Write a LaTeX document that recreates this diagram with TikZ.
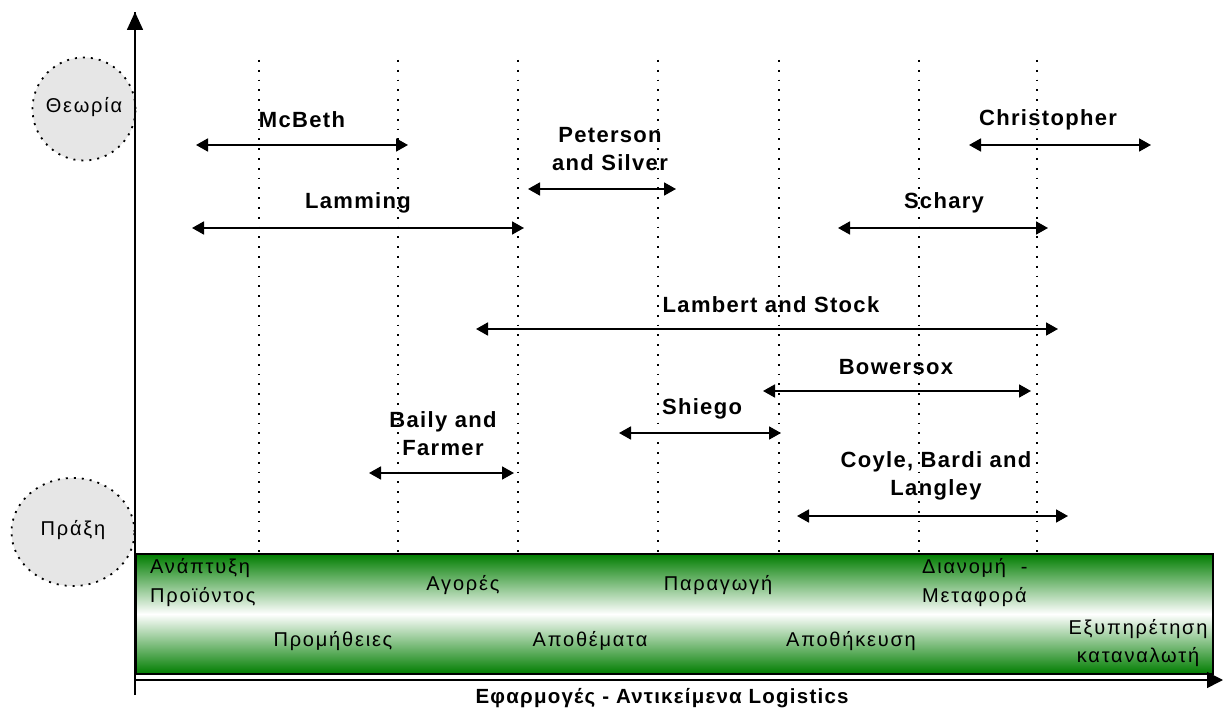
\documentclass[tikz,border=0pt]{standalone}
\usepackage{fontspec}
\setmainfont{Liberation Sans}
\usetikzlibrary{arrows.meta,shapes.geometric}
\begin{document}
\begin{tikzpicture}[x=1pt,y=-1pt,
  lbl/.style={font=\fontsize{22}{28}\selectfont\bfseries\addfontfeature{LetterSpace=6},align=center,inner sep=0pt},
  bartxt/.style={font=\fontsize{20}{29}\selectfont\addfontfeature{LetterSpace=9},inner sep=0pt},
  span/.style={{Triangle[length=12pt,width=13pt]}-{Triangle[length=12pt,width=13pt]},line width=1.8pt},
  grid/.style={line width=1.6pt,dash pattern=on 1.8pt off 8pt},
  bubble/.style={fill={rgb,255:red,230;green,230;blue,230},draw=black,line width=1.8pt,dash pattern=on 2pt off 6pt,inner sep=0pt},
  axis/.style={line width=1.6pt}
]
\useasboundingbox (0,0) rectangle (1224,714);
% bar
\node[draw=black,line width=2pt,minimum width=1077pt,minimum height=120pt,inner sep=0pt,anchor=north west,
  top color={rgb,255:red,0;green,125;blue,0},bottom color={rgb,255:red,0;green,125;blue,0},middle color=white] (bar) at (135,553) {};
% grid lines
\foreach \x [count=\i] in {259,398,518,658,779,919,1037}{
  \coordinate (gt\i) at (\x,60);
  \coordinate (gb\i) at (\x,553);
  \draw[grid] (gt\i) -- (gb\i);
}
% axes
\coordinate (o) at (135,695);
\coordinate (ytop) at (135,12);
\coordinate (xo) at (135,680);
\coordinate (xend) at (1223,680);
\draw[axis,-{Triangle[length=18pt,width=16pt]}] (o) -- (ytop);
\draw[axis,-{Triangle[length=16pt,width=16pt]}] (xo) -- (xend);
% bubbles
\node[bubble,circle,minimum size=103pt] (theory) at (84,109) {};
\node[bartxt] (theorylbl) at (84,107) {Θεωρία};
\node[bubble,ellipse,minimum width=123pt,minimum height=108pt] (practice) at (73,532) {};
\node[bartxt] (practicelbl) at (73,530) {Πράξη};
\draw[axis] (135,553) -- (135,12);
% spans
\foreach \n/\y/\a/\b in {mcbeth/145/196/408, peter/189/528/676, chris/145/969/1151, lamm/228/192/524, schary/228/838/1048, lambert/329/476/1058, bower/391/763/1031, shiego/433/619/781, baily/473/369/514, coyle/516/797/1068}{
  \coordinate (\n L) at (\a,\y);
  \coordinate (\n R) at (\b,\y);
  \draw[span] (\n L) -- (\n R);
}
\node[lbl] (t1) at (302,120) {McBeth};
\node[lbl] (t2) at (610,149) {Peterson\\and Silver};
\node[lbl] (t3) at (1048,120) {Christopher};
\node[lbl] (t4) at (358,203) {Lamming};
\node[lbl] (t5) at (944,203) {Schary};
\node[lbl] (t6) at (771,305) {Lambert and Stock};
\node[lbl] (t7) at (896,367) {Bowersox};
\node[lbl] (t8) at (702,409) {Shiego};
\node[lbl] (t9) at (443,434) {Baily and\\Farmer};
\node[lbl] (t10) at (936,476) {Coyle, Bardi and\\Langley};
% bar text
\node[bartxt,align=left,anchor=north west] (b1) at (150,558) {Ανάπτυξη\\Προϊόντος};
\node[bartxt] (b2) at (463,585) {Αγορές};
\node[bartxt] (b3) at (718,585) {Παραγωγή};
\node[bartxt,align=left,anchor=north west] (b4) at (922,558) {Διανομή\ \ -\\Μεταφορά};
\node[bartxt] (b5) at (333,641) {Προμήθειες};
\node[bartxt] (b6) at (590,641) {Αποθέματα};
\node[bartxt] (b7) at (851,641) {Αποθήκευση};
\node[bartxt,align=center,font=\fontsize{20}{28}\selectfont\addfontfeature{LetterSpace=9}] (b8) at (1138,643) {Εξυπηρέτηση\\καταναλωτή};
\node[font=\fontsize{20.5}{24}\selectfont\bfseries\addfontfeature{LetterSpace=6}] (xlabel) at (662,698) {Εφαρμογές - Αντικείμενα Logistics};
\end{tikzpicture}
\end{document}
